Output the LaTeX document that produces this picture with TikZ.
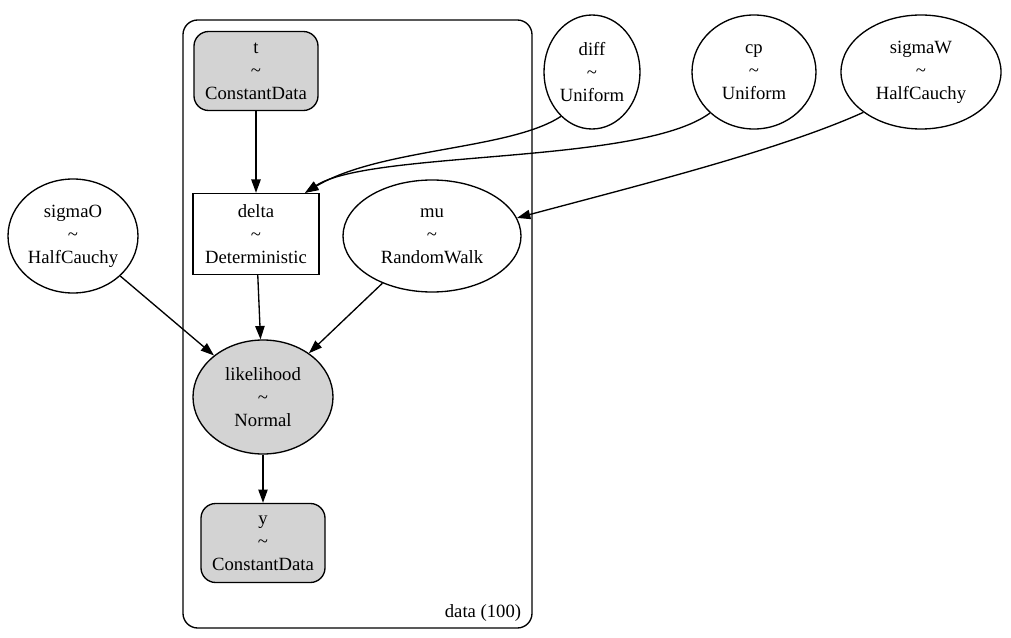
\documentclass[tikz,border=0pt]{standalone}
\usepackage{fontspec}
\setmainfont{Liberation Serif}
\usetikzlibrary{arrows.meta,shapes.geometric}
\definecolor{NodeGray}{HTML}{D3D3D3}

\begin{document}
\begin{tikzpicture}[x=0.75pt,y=-0.75pt,>={Triangle[length=10pt,width=7pt]},
    every node/.style={font=\fontsize{14}{17.25}\selectfont,align=center,inner sep=0pt},
    freevar/.style={ellipse,draw,line width=1pt,minimum height=85.5pt},
    datavar/.style={rectangle,draw,fill=NodeGray,rounded corners=11pt,line width=1pt,
                    minimum width=93pt,minimum height=59.25pt},
    detvar/.style={rectangle,draw,line width=1pt,minimum width=94.5pt,minimum height=60.75pt},
    edge/.style={->,line width=1pt}]
    \useasboundingbox (0,0) rectangle (1011,638);

    % plate
    \draw[line width=1pt,rounded corners=11pt] (183,20) rectangle (532,628);
    \node (platelabel) at (483,613) {data (100)};

    % nodes
    \node[datavar] (t) at (256,71) {t\\\textasciitilde\\ConstantData};
    \node[freevar,minimum width=72pt] (diff) at (592,72) {diff\\\textasciitilde\\Uniform};
    \node[freevar,minimum width=93pt] (cp) at (754,72) {cp\\\textasciitilde\\Uniform};
    \node[freevar,minimum width=120pt] (sigmaW) at (921,72) {sigmaW\\\textasciitilde\\HalfCauchy};
    \node[freevar,minimum width=97.5pt] (sigmaO) at (73,236) {sigmaO\\\textasciitilde\\HalfCauchy};
    \node[detvar] (delta) at (256,234) {delta\\\textasciitilde\\Deterministic};
    \node[freevar,minimum width=133.5pt,minimum height=84pt] (mu) at (432,236) {mu\\\textasciitilde\\RandomWalk};
    \node[freevar,fill=NodeGray,minimum width=105pt] (likelihood) at (263,397) {likelihood\\\textasciitilde\\Normal};
    \node[datavar] (y) at (263,543) {y\\\textasciitilde\\ConstantData};

    % edges
    \draw[edge] (t) -- (delta);
    \draw[edge] (diff.235) .. controls (510,150) and (380,148) .. (delta.40);
    \draw[edge] (cp.223) .. controls (640,165) and (370,150) .. (delta.40);
    \draw[edge] (sigmaW.215) .. controls (780,150) and (640,185) .. (mu.12);
    \draw[edge] (sigmaO) -- (likelihood);
    \draw[edge] (delta) -- (likelihood);
    \draw[edge] (mu) -- (likelihood);
    \draw[edge] (likelihood) -- (y);
\end{tikzpicture}
\end{document}
